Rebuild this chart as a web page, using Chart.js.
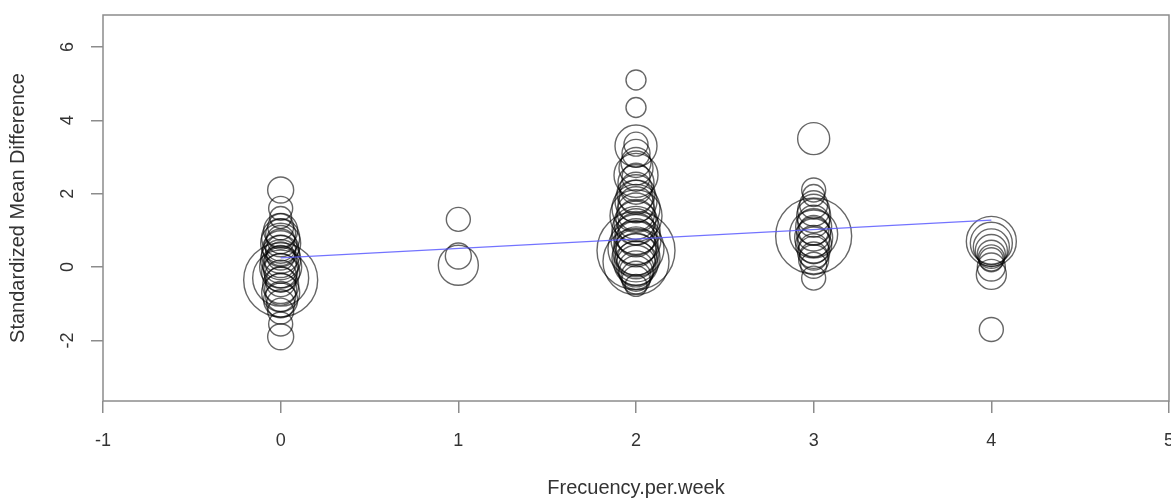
<!DOCTYPE html>
<html>
<head>
<meta charset="utf-8">
<script src="https://cdn.jsdelivr.net/npm/chart.js@4.4.0/dist/chart.umd.min.js"></script>
<style>
  body { margin: 0; background: #fff; }
</style>
</head>
<body>
<canvas id="smdChart" width="1171" height="499"></canvas>
<script>
// effect sizes by training frequency
var freqLevels = [0, 1, 2, 3, 4];

var smd0  = [2.1, 1.6, 1.35, 1.1, 1.0, 0.9, 0.8, 0.75, 0.65, 0.6, 0.5, 0.45, 0.35, 0.3, 0.2, 0.15, 0.05, 0.0, -0.1, -0.15, -0.25, -0.3, -0.35, -0.4, -0.5, -0.6, -0.7, -0.8, -0.9, -1.0, -1.2, -1.55, -1.9];
var size0 = [13, 12, 11, 13, 17, 15, 19, 14, 20, 16, 18, 15, 19, 14, 20, 16, 18, 21, 17, 19, 16, 28, 37, 15, 18, 16, 19, 15, 17, 14, 13, 12, 13];

var smd1  = [1.3, 0.3, 0.05];
var size1 = [12, 13, 20];

var smd2  = [5.1, 4.35, 3.35, 3.3, 3.1, 2.85, 2.7, 2.5, 2.45, 2.3, 2.15, 2.0, 1.9, 1.8, 1.7, 1.6, 1.5, 1.4, 1.3, 1.2, 1.1, 1.0, 0.9, 0.8, 0.75, 0.65, 0.55, 0.5, 0.4, 0.35, 0.25, 0.2, 0.1, 0.05, -0.05, -0.15, -0.25, -0.35, -0.5, 0.45, 0.15];
var size2 = [10, 10, 12, 21, 14, 15, 17, 22, 14, 18, 16, 19, 17, 21, 18, 24, 19, 26, 20, 22, 18, 24, 21, 19, 25, 22, 20, 28, 23, 21, 24, 19, 22, 20, 18, 17, 15, 14, 11, 39, 33];

var smd3  = [3.5, 2.1, 1.95, 1.7, 1.55, 1.4, 1.25, 1.1, 1.0, 0.9, 0.8, 0.7, 0.6, 0.5, 0.4, 0.3, 0.2, 0.05, -0.3, 0.85, 0.9];
var size3 = [16, 12, 11, 14, 16, 17, 16, 18, 15, 17, 19, 16, 18, 15, 16, 14, 15, 13, 12, 38, 24];

var smd4  = [0.7, 0.65, 0.55, 0.45, 0.35, 0.25, 0.2, 0.0, -0.2, -1.7];
var size4 = [25, 21, 18, 16, 14, 13, 12, 14, 15, 12];

// meta-regression line
var regX = [0, 4];
var regY = [0.25, 1.28];

var xTicks = [-1, 0, 1, 2, 3, 4, 5];
var yTicks = [-2, 0, 2, 4, 6];

var smdGroups = [smd0, smd1, smd2, smd3, smd4];
var sizeGroups = [size0, size1, size2, size3, size4];

var bubbles = [];
freqLevels.forEach(function (f, i) {
	smdGroups[i].forEach(function (v, j) {
		bubbles.push({ x: f, y: v, r: sizeGroups[i][j] });
	});
});
var regLine = regX.map(function (x, i) { return { x: x, y: regY[i] }; });

var axisGrey = '#8c8c8c';
var txtColor = '#333333';
var fam = "'Liberation Sans', Arial, sans-serif";

// R style box around the plot region
var boxPlugin = {
	id: 'plotBox',
	afterDraw: function (chart) {
		var a = chart.chartArea, c = chart.ctx;
		c.save();
		c.strokeStyle = axisGrey;
		c.lineWidth = 1.5;
		c.strokeRect(a.left, a.top, a.right - a.left, a.bottom - a.top);
		c.restore();
	}
};

var ctx = document.getElementById('smdChart').getContext('2d');
var chart = new Chart(ctx, {
	type: 'bubble',
	data: {
		datasets: [{
			type: 'line',
			data: regLine,
			borderColor: 'rgba(90, 90, 255, 0.85)',
			borderWidth: 1.3,
			pointRadius: 0,
			fill: false,
			order: 0
		}, {
			data: bubbles,
			backgroundColor: 'rgba(0,0,0,0)',
			borderColor: 'rgba(0, 0, 0, 0.6)',
			borderWidth: 1.4,
			hoverRadius: 0,
			order: 1
		}]
	},
	options: {
		responsive: false,
		animation: false,
		events: [],
		layout: { autoPadding: false, padding: { top: 15, right: 2, left: 0, bottom: 0 } },
		plugins: { legend: { display: false }, tooltip: { enabled: false } },
		scales: {
			x: {
				type: 'linear',
				min: -1, max: 5,
				border: { display: false },
				grid: { drawOnChartArea: false, drawTicks: true, tickLength: 12, color: axisGrey, lineWidth: 1.5 },
				ticks: { stepSize: 1, padding: 17, color: txtColor, font: { family: fam, size: 18 }, maxRotation: 0 },
				afterBuildTicks: function (s) { s.ticks = xTicks.map(function (v) { return { value: v }; }); },
				afterFit: function (s) { s.height = 98; s.paddingLeft = 0; s.paddingRight = 0; },
				title: { display: true, text: 'Frecuency.per.week', color: txtColor, font: { family: fam, size: 20, lineHeight: 1.1 }, padding: { top: 0, bottom: 0 } }
			},
			y: {
				type: 'linear',
				min: -3.65, max: 6.87,
				border: { display: false },
				grid: { drawOnChartArea: false, drawTicks: true, tickLength: 12, color: axisGrey, lineWidth: 1.5 },
				ticks: { padding: 15, color: txtColor, font: { family: fam, size: 18 }, minRotation: 90, maxRotation: 90, crossAlign: 'center' },
				afterBuildTicks: function (s) { s.ticks = yTicks.map(function (v) { return { value: v }; }); },
				afterFit: function (s) { s.width = 103; s.paddingTop = 0; s.paddingBottom = 0; },
				title: { display: true, text: 'Standardized Mean Difference', color: txtColor, font: { family: fam, size: 20, lineHeight: 1.1 }, padding: { top: 7, bottom: 0 } }
			}
		}
	},
	plugins: [boxPlugin]
});
</script>
</body>
</html>
